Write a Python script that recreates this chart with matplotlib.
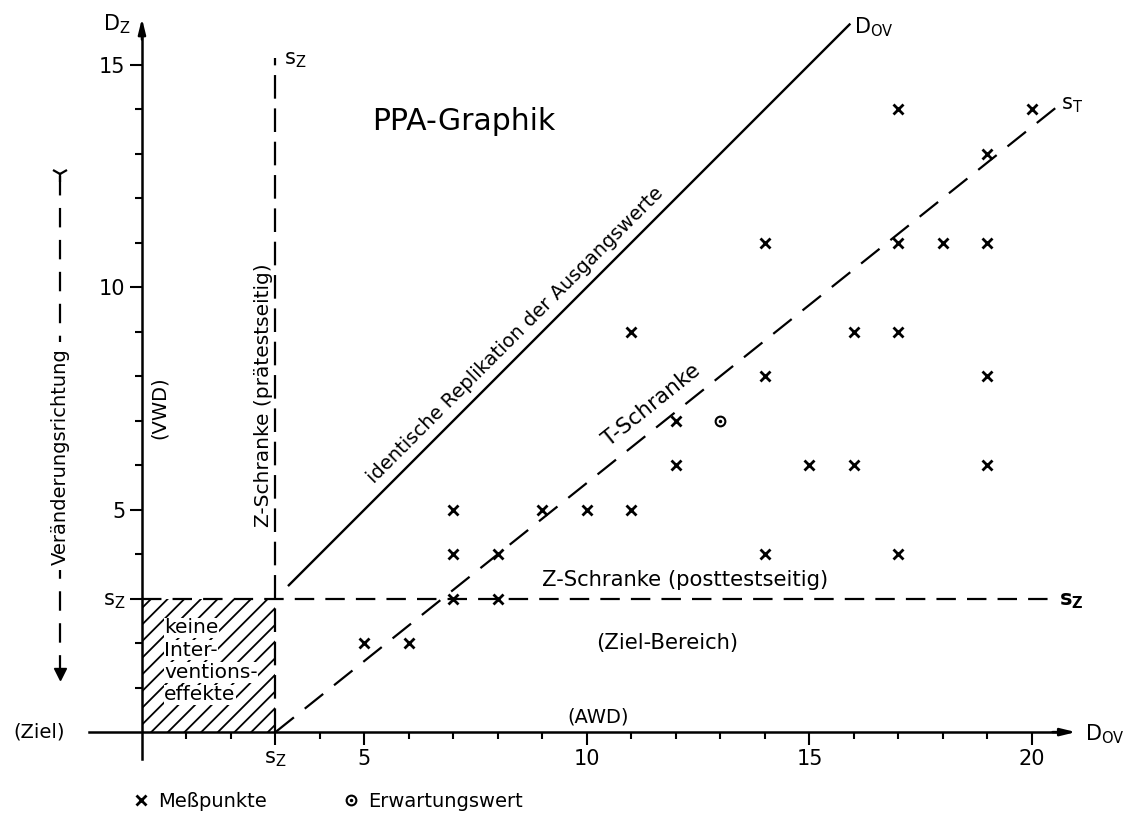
import matplotlib.pyplot as plt
from matplotlib.patches import Rectangle

plt.rcParams['font.family'] = 'DejaVu Sans'
plt.rcParams['mathtext.default'] = 'regular'
plt.rcParams['lines.scale_dashes'] = False
plt.rcParams['hatch.linewidth'] = 1.3

# Messpunkte (D_OV, D_Z)
d_ov = [5, 6, 7, 8, 7, 8, 14, 17, 7, 9, 10, 11, 12, 15, 16, 19, 12, 14, 19,
        11, 16, 17, 14, 17, 18, 19, 19, 17, 20]
d_z = [2, 2, 3, 3, 4, 4, 4, 4, 5, 5, 5, 5, 6, 6, 6, 6, 7, 8, 8,
       9, 9, 9, 11, 11, 11, 11, 13, 14, 14]
# Erwartungswert
erw_ov = [13]
erw_z = [7]

s_z = 3          # Z-Schranke
t_slope = 0.8    # Steigung der T-Schranke

x_major = [3, 5, 10, 15, 20]
x_major_labels = ['s$_Z$', '5', '10', '15', '20']
y_major = [3, 5, 10, 15]
y_major_labels = ['s$_Z$', '5', '10', '15']

fig = plt.figure(figsize=(11.33, 8.18), dpi=100)
ax = fig.add_axes([0, 0, 1, 1])
ax.set_xlim(-3.19, 22.27)
ax.set_ylim(-1.93, 16.45)

# Achsen
for s in ['top', 'right']:
    ax.spines[s].set_visible(False)
ax.spines['left'].set_position(('data', 0))
ax.spines['bottom'].set_position(('data', 0))
ax.spines['left'].set_bounds(-0.6, 15.8)
ax.spines['bottom'].set_bounds(-1.2, 20.7)
ax.spines['left'].set_linewidth(1.8)
ax.spines['bottom'].set_linewidth(1.8)
ax.annotate('', xy=(21.05, 0), xytext=(20.4, 0),
            arrowprops=dict(arrowstyle='-|>,head_length=0.9,head_width=0.22',
                            color='k', lw=1.8))
ax.annotate('', xy=(0, 16.1), xytext=(0, 15.5),
            arrowprops=dict(arrowstyle='-|>,head_length=0.9,head_width=0.22',
                            color='k', lw=1.8))

ax.set_xticks(x_major, x_major_labels)
ax.set_yticks(y_major, y_major_labels)
ax.set_xticks([i for i in range(1, 21) if i not in x_major], minor=True)
ax.set_yticks([i for i in range(1, 16) if i not in y_major], minor=True)
ax.tick_params(which='major', direction='out', length=9, width=1.5,
               labelsize=15, pad=3)
ax.tick_params(which='minor', direction='out', length=5, width=1.5)

# Schranken
ax.plot([3.3, 15.9], [3.3, 15.9], color='k', lw=1.7)
ax.plot([s_z, s_z], [0, 15.15], color='k', lw=1.6, dashes=(17, 7))
ax.plot([0, 20.4], [s_z, s_z], color='k', lw=1.6, dashes=(14, 8))
tx = [s_z, 20.55]
ax.plot(tx, [t_slope * (x - s_z) for x in tx], color='k', lw=1.6, dashes=(17, 10))

# keine Interventionseffekte
ax.add_patch(Rectangle((0, 0), s_z, s_z, fill=False, hatch='//',
                       edgecolor='k', lw=0))
for i, line in enumerate(['keine', 'Inter-', 'ventions-', 'effekte']):
    ax.text(0.5, 2.34 - 0.5 * i, line, fontsize=14.5, ha='left', va='center',
            bbox=dict(fc='white', ec='none', pad=0.5))

# Punkte
ax.plot(d_ov, d_z, linestyle='none', marker='x', ms=7, mew=2, color='k')
ax.plot(erw_ov, erw_z, linestyle='none', marker='o', ms=7, mew=1.5,
        fillstyle='none', color='k')
ax.plot(erw_ov, erw_z, linestyle='none', marker='.', ms=3, color='k')

# Beschriftungen
ax.text(-0.25, 15.9, 'D$_Z$', fontsize=15, ha='right', va='center')
ax.text(21.2, -0.05, 'D$_{OV}$', fontsize=15, ha='left', va='center')
ax.text(16.0, 15.85, 'D$_{OV}$', fontsize=15, ha='left', va='center')
ax.text(3.2, 15.1, 's$_Z$', fontsize=15, ha='left', va='center')
ax.text(20.65, 14.1, 's$_T$', fontsize=15, ha='left', va='center')
ax.text(20.6, 2.95, 's$_Z$', fontsize=15, ha='left', va='center',
        fontweight='bold')
ax.text(7.24, 13.73, 'PPA-Graphik', fontsize=21.5, ha='center', va='center')
ax.text(8.4, 8.92, 'identische Replikation der Ausgangswerte', fontsize=14,
        rotation=45, ha='center', va='center', rotation_mode='anchor')
ax.text(11.46, 7.35, 'T-Schranke', fontsize=15.5, rotation=38.7,
        ha='center', va='center', rotation_mode='anchor')
ax.text(2.72, 7.57, 'Z-Schranke (prätestseitig)', fontsize=14.5, rotation=90,
        ha='center', va='center')
ax.text(12.2, 3.42, 'Z-Schranke (posttestseitig)', fontsize=15.2,
        ha='center', va='center')
ax.text(11.8, 2.0, '(Ziel-Bereich)', fontsize=15.2, ha='center', va='center')
ax.text(0.4, 7.28, '(VWD)', fontsize=14, rotation=90, ha='center', va='center')
ax.text(10.25, 0.33, '(AWD)', fontsize=14, ha='center', va='center')
ax.text(-1.73, 0, '(Ziel)', fontsize=14, ha='right', va='center')

# Veränderungsrichtung
ax.plot([-1.84, -1.84], [12.5, 1.45], color='k', lw=1.6, dashes=(14, 9))
ax.plot([-1.84], [12.55], marker='1', ms=12, mew=1.6, color='k')
ax.plot([-1.84], [1.3], marker='v', ms=8, color='k')
ax.text(-1.84, 6.2, 'Veränderungsrichtung', fontsize=14, rotation=90,
        ha='center', va='center', bbox=dict(fc='white', ec='none', pad=4))

# Legende
h1, = ax.plot([], [], linestyle='none', marker='x', ms=7, mew=2, color='k')
h2a, = ax.plot([], [], linestyle='none', marker='o', ms=7, mew=1.5,
               fillstyle='none', color='k')
h2b, = ax.plot([], [], linestyle='none', marker='.', ms=3, color='k')
ax.legend([h1, (h2a, h2b)], ['Meßpunkte', 'Erwartungswert'], ncol=2,
          frameon=False, fontsize=14, loc='center left',
          bbox_to_anchor=(-0.2, -1.55), bbox_transform=ax.transData,
          handlelength=0.8, handletextpad=0.5, columnspacing=3.9,
          borderpad=0, borderaxespad=0)

fig.savefig('out.png', dpi=100)
